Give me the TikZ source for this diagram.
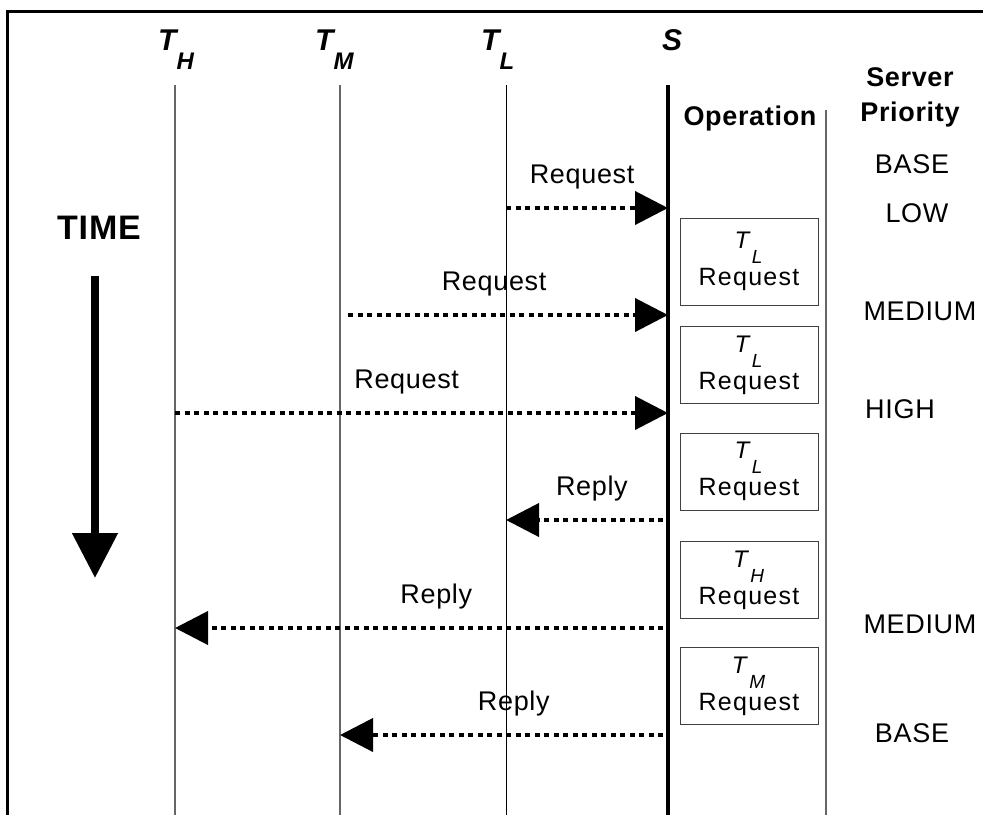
\documentclass[tikz,border=0pt]{standalone}
\usepackage{fontspec}
\setmainfont{Liberation Sans}[LetterSpace=2.5]
\usetikzlibrary{arrows.meta,positioning}
\newcommand{\hdrsub}[2]{#1\raisebox{-19pt}{\fontsize{24}{24}\selectfont #2}}
\newcommand{\whosub}[2]{{\fontsize{24}{24}\selectfont\textit{#1}\raisebox{-15pt}{\fontsize{19}{19}\selectfont\textit{#2}}}}
\tikzset{
frameline/.style = {line width=3pt},
lifeline/.style = {draw=black!60, line width=1.3pt},
srvline/.style = {line width=4pt},
msg/.style = {line width=4pt, dash pattern=on 5pt off 4.5pt, -{Triangle[length=33pt,width=33pt]}},
msglbl/.style = {font=\fontsize{27}{27}\selectfont, inner sep=0pt, anchor=base, yshift=25pt},
prio/.style = {font=\fontsize{27}{27}\selectfont, inner sep=0pt, anchor=base},
colhead/.style = {font=\fontsize{27}{27}\selectfont\bfseries, inner sep=0pt, anchor=base},
hdr/.style = {font=\fontsize{30}{30}\selectfont\bfseries\itshape, inner sep=0pt, anchor=base west},
opbox/.style = {draw=black!75, line width=1pt, minimum width=138pt, minimum height=77pt, align=center, inner sep=0pt, font=\fontsize{25}{37}\selectfont\addfontfeature{LetterSpace=5}}
}
\begin{document}
\begin{tikzpicture}[x=1pt, y=-1pt]
\useasboundingbox (0,0) rectangle (983,815);
% frame
\coordinate (fr-bl) at (7,815);
\coordinate (fr-tl) at (7,11);
\coordinate (fr-tr) at (983,11);
\draw[frameline] (fr-bl) -- (fr-tl) -- (fr-tr);

% headers
\node[hdr] (tH) at (158,50) {\hdrsub{T}{H}};
\node[hdr] (tM) at (315,50) {\hdrsub{T}{M}};
\node[hdr] (tL) at (481,50) {\hdrsub{T}{L}};
\node[hdr] (srv) at (662,50) {S};
\node[colhead] (oper) at (750,125) {Operation};
\node[colhead] (sprio1) at (910,86) {Server};
\node[colhead] (sprio2) at (910,121) {Priority};

% lifelines
\coordinate (H-top) at (175,85);  \coordinate (H-bot) at (175,815);
\coordinate (M-top) at (340,85);  \coordinate (M-bot) at (340,815);
\coordinate (L-top) at (506,85);  \coordinate (L-bot) at (506,815);
\coordinate (S-top) at (668,85);  \coordinate (S-bot) at (668,815);
\coordinate (O-top) at (826,110); \coordinate (O-bot) at (826,815);
\draw[lifeline] (H-top) -- (H-bot);
\draw[lifeline] (M-top) -- (M-bot);
\draw[line width=1pt] (L-top) -- (L-bot);
\draw[lifeline] (O-top) -- (O-bot);
\draw[srvline] (S-top) -- (S-bot);

% time
\node[font=\fontsize{34}{34}\selectfont\bfseries, inner sep=0pt, anchor=base] (time) at (99,239) {TIME};
\coordinate (time-a) at (95,276);
\coordinate (time-b) at (95,578);
\draw[line width=8pt, -{Triangle[length=45pt,width=44pt]}] (time-a) -- (time-b);

% requests
\coordinate (q1a) at (506,208); \coordinate (q1b) at (668,208);
\coordinate (q2a) at (340,315); \coordinate (q2b) at (668,315);
\coordinate (q3a) at (175,413); \coordinate (q3b) at (668,413);
\draw[msg] (q1a) -- node[msglbl, pos=.47] (lq1) {Request} (q1b);
\draw[msg, shorten <=8pt] (q2a) -- node[msglbl, pos=.47] (lq2) {Request} (q2b);
\draw[msg] (q3a) -- node[msglbl, pos=.47] (lq3) {Request} (q3b);

% replies
\coordinate (r1a) at (668,520); \coordinate (r1b) at (506,520);
\coordinate (r2a) at (668,628); \coordinate (r2b) at (175,628);
\coordinate (r3a) at (668,735); \coordinate (r3b) at (340,735);
\draw[msg, shorten <=5pt] (r1a) -- node[msglbl, pos=.47] (lr1) {Reply} (r1b);
\draw[msg, shorten <=5pt] (r2a) -- node[msglbl, pos=.47] (lr2) {Reply} (r2b);
\draw[msg, shorten <=5pt] (r3a) -- node[msglbl, pos=.47] (lr3) {Reply} (r3b);

% operations
\node[opbox, minimum height=87pt] (op1) at (749,261.5) {\whosub{T}{L}\\Request};
\node[opbox] (op2) at (749,365) {\whosub{T}{L}\\Request};
\node[opbox] (op3) at (749,471.5) {\whosub{T}{L}\\Request};
\node[opbox] (op4) at (749,580) {\whosub{T}{H}\\Request};
\node[opbox] (op5) at (749,686) {\whosub{T}{M}\\Request};

% server priority
\node[prio] (p1) at (912,173) {BASE};
\node[prio] (p2) at (917,222) {LOW};
\node[prio] (p3) at (920,320) {MEDIUM};
\node[prio] (p4) at (900,418) {HIGH};
\node[prio] (p5) at (920,633) {MEDIUM};
\node[prio] (p6) at (912,742) {BASE};
\end{tikzpicture}
\end{document}
